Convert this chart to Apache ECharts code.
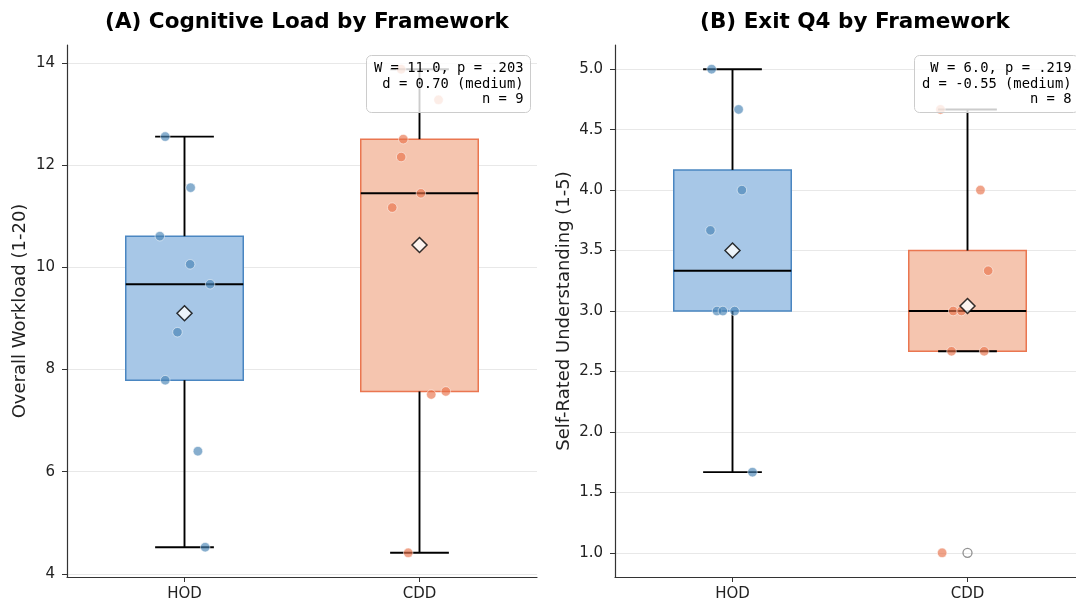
<!DOCTYPE html>
<html><head><meta charset="utf-8">
<script src="https://cdn.jsdelivr.net/npm/echarts@6/dist/echarts.min.js"></script>
<style>html,body{margin:0;padding:0;background:#fff}#c{width:1076px;height:606px}</style>
</head><body><div id="c"></div>
<script>
// ---------- data ----------
const categories = ['HOD', 'CDD'];
const workloadHOD = [12.56, 11.56, 10.61, 10.06, 9.67, 8.73, 7.79, 6.40, 4.52];
const workloadCDD = [13.88, 13.28, 12.51, 12.16, 11.45, 11.17, 7.57, 7.51, 4.41];
const jitterWorkloadHOD = [-0.082, 0.026, -0.105, 0.024, 0.109, -0.030, -0.082, 0.057, 0.088];
const jitterWorkloadCDD = [-0.078, 0.081, -0.069, -0.078, 0.006, -0.116, 0.112, 0.050, -0.048];
const understandHOD = [5.0, 4.667, 4.0, 3.667, 3.0, 3.0, 3.0, 1.667];
const understandCDD = [4.667, 4.0, 3.333, 3.0, 3.0, 2.667, 2.667, 1.0];
const jitterUnderstandHOD = [-0.089, 0.026, 0.040, -0.094, -0.066, -0.041, 0.009, 0.085];
const jitterUnderstandCDD = [-0.115, 0.055, 0.088, -0.061, -0.026, -0.068, 0.071, -0.108];
const ticksA = [4, 6, 8, 10, 12, 14];
const ticksB = [1.0, 1.5, 2.0, 2.5, 3.0, 3.5, 4.0, 4.5, 5.0];
const statsA = ['W = 11.0, p = .203', 'd = 0.70 (medium)', 'n = 9'];
const statsB = ['W = 6.0, p = .219', 'd = -0.55 (medium)', 'n = 8'];
const titles = ['(A) Cognitive Load by Framework', '(B) Exit Q4 by Framework'];
const yNames = ['Overall Workload (1-20)', 'Self-Rated Understanding (1-5)'];

// ---------- helpers ----------
function quantile(sorted, p) {
  const pos = (sorted.length - 1) * p, lo = Math.floor(pos), hi = Math.ceil(pos);
  return sorted[lo] + (sorted[hi] - sorted[lo]) * (pos - lo);
}
function boxStats(vals, x) {
  const s = vals.slice().sort((a, b) => a - b);
  const q1 = quantile(s, 0.25), med = quantile(s, 0.5), q3 = quantile(s, 0.75);
  const iqr = q3 - q1;
  const inl = s.filter(v => v >= q1 - 1.5 * iqr && v <= q3 + 1.5 * iqr);
  const out = s.filter(v => v < q1 - 1.5 * iqr || v > q3 + 1.5 * iqr);
  const mean = vals.reduce((a, b) => a + b, 0) / vals.length;
  return { box: [x, q1, med, q3, inl[0], inl[inl.length - 1]], out: out.map(v => [x, v]), mean: [x, mean] };
}
const fills = ['#a7c7e7', '#f5c5af'];
const edges = ['#4a86c1', '#ea7650'];
const dots = ['#4682b4', '#e8714a'];

function boxRender(params, api) {
  const x = api.value(0), q1 = api.value(1), med = api.value(2), q3 = api.value(3), lo = api.value(4), hi = api.value(5);
  const ci = Math.round(x);
  const p = (a, b) => api.coord([a, b]);
  const tl = p(x - 0.25, q3), br = p(x + 0.25, q1);
  const blk = { stroke: '#000', lineWidth: 1.9 };
  const seg = (a, b, st) => ({ type: 'line', shape: { x1: a[0], y1: a[1], x2: b[0], y2: b[1] }, style: st });
  return {
    type: 'group', children: [
      { type: 'rect', shape: { x: tl[0], y: tl[1], width: br[0] - tl[0], height: br[1] - tl[1] }, style: { fill: fills[ci], stroke: edges[ci], lineWidth: 1.5 } },
      seg(p(x, q3), p(x, hi), blk),
      seg(p(x, q1), p(x, lo), blk),
      seg(p(x - 0.125, hi), p(x + 0.125, hi), blk),
      seg(p(x - 0.125, lo), p(x + 0.125, lo), blk),
      seg(p(x - 0.25, med), p(x + 0.25, med), { stroke: '#000', lineWidth: 2 })
    ]
  };
}

// panel B's right edge is cut by the picture border: visible x-range ends at 1.4617
const panels = [
  { groups: [workloadHOD, workloadCDD], jit: [jitterWorkloadHOD, jitterWorkloadCDD], min: 3.9365, max: 14.3535, xmax: 1.5, ticks: ticksA, fmt: v => String(v), gap: 38 },
  { groups: [understandHOD, understandCDD], jit: [jitterUnderstandHOD, jitterUnderstandCDD], min: 0.8, max: 5.2, xmax: 1.4617, ticks: ticksB, fmt: v => v.toFixed(1), gap: 42 }
];
const grids = [
  { left: 67, width: 470, top: 45, height: 532 },
  { left: 615, width: 461, top: 45, height: 532 }
];
const FONT = 'DejaVu Sans';

const xAxes = [], yAxes = [], series = [];
panels.forEach((pn, i) => {
  xAxes.push({
    gridIndex: i, type: 'value', min: -0.5, max: pn.xmax,
    axisLine: { show: true, onZero: false, lineStyle: { color: '#333', width: 1.2 } },
    axisTick: { show: true, length: 5, customValues: [0, 1], lineStyle: { color: '#333' } },
    axisLabel: { customValues: [0, 1], formatter: v => categories[Math.round(v)], color: '#222', fontSize: 15, fontFamily: FONT, margin: 10 },
    splitLine: { show: false }
  });
  yAxes.push({
    gridIndex: i, type: 'value', min: pn.min, max: pn.max,
    name: yNames[i], nameLocation: 'middle', nameGap: pn.gap,
    nameTextStyle: { fontSize: 18, fontFamily: FONT, color: '#222' },
    axisLine: { show: true, onZero: false, lineStyle: { color: '#333', width: 1.2 } },
    axisTick: { show: true, length: 5, customValues: pn.ticks, lineStyle: { color: '#333' } },
    axisLabel: { customValues: pn.ticks, formatter: pn.fmt, color: '#222', fontSize: 15, fontFamily: FONT, margin: 12 },
    splitLine: { show: true, lineStyle: { color: '#e8e8e8', width: 1 } }
  });
  const st = pn.groups.map((g, k) => boxStats(g, k));
  series.push({
    type: 'custom', xAxisIndex: i, yAxisIndex: i, renderItem: boxRender, z: 2,
    encode: { x: 0, y: [1, 2, 3, 4, 5] },
    data: st.map(s => s.box)
  });
  pn.groups.forEach((g, k) => {
    series.push({
      type: 'scatter', xAxisIndex: i, yAxisIndex: i, z: 3, symbolSize: 9.5,
      itemStyle: { color: dots[k], opacity: 0.65, borderColor: '#fff', borderWidth: 0.8 },
      data: g.map((v, j) => [k + pn.jit[k][j], v])
    });
  });
  series.push({
    type: 'scatter', xAxisIndex: i, yAxisIndex: i, z: 4, symbolSize: 9,
    itemStyle: { color: 'rgba(0,0,0,0)', borderColor: '#777', borderWidth: 1.3 },
    data: st.flatMap(s => s.out)
  });
  series.push({
    type: 'scatter', xAxisIndex: i, yAxisIndex: i, z: 5, symbol: 'diamond', symbolSize: [15, 15],
    itemStyle: { color: '#fff', borderColor: '#000', borderWidth: 1.5 },
    data: st.map(s => s.mean)
  });
});

function annot(x, y, w, h, lines) {
  return {
    type: 'group', left: x, top: y, z: 100, children: [
      { type: 'rect', z: 100, shape: { x: 0, y: 0, width: w, height: h, r: 5 }, style: { fill: 'rgba(255,255,255,0.8)', stroke: '#cccccc', lineWidth: 1 } },
      { type: 'text', z: 101, x: w - 7, y: 5, style: { text: lines.join('\n'), align: 'right', verticalAlign: 'top', font: '13.8px "DejaVu Sans Mono"', lineHeight: 15.7, fill: '#000' } }
    ]
  };
}

const chart = echarts.init(document.getElementById('c'), null, { renderer: 'canvas' });
chart.setOption({
  animation: false,
  title: [
    { text: titles[0], left: 302, top: 6, textAlign: 'center', textStyle: { fontFamily: FONT, fontWeight: 'bold', fontSize: 21.5, color: '#000' } },
    { text: titles[1], left: 850, top: 6, textAlign: 'center', textStyle: { fontFamily: FONT, fontWeight: 'bold', fontSize: 21.5, color: '#000' } }
  ],
  grid: grids,
  xAxis: xAxes,
  yAxis: yAxes,
  series: series,
  graphic: [annot(366, 55, 164, 57, statsA), annot(914, 55, 164, 57, statsB)]
});
</script></body></html>
